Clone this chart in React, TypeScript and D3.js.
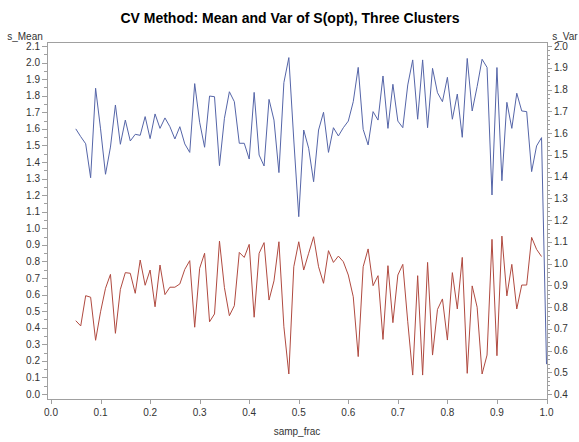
import React from "react";
import * as d3 from "d3";

const title = "CV Method: Mean and Var of S(opt), Three Clusters";
const xLabel = "samp_frac";
const yLeftLabel = "s_Mean";
const yRightLabel = "s_Var";

const sampFrac: number[] = d3.range(5, 101).map((i) => i / 100);

const sMean: number[] = [
  1.60, 1.553, 1.51, 1.305, 1.845, 1.60, 1.326, 1.49, 1.744, 1.507,
  1.653, 1.527, 1.567, 1.561, 1.674, 1.541, 1.69, 1.603, 1.666, 1.613,
  1.539, 1.613, 1.509, 1.458, 1.873, 1.64, 1.489, 1.798, 1.794, 1.378,
  1.664, 1.824, 1.764, 1.513, 1.513, 1.418, 1.82, 1.442, 1.376, 1.778,
  1.653, 1.336, 1.879, 2.03, 1.533, 1.07, 1.593, 1.483, 1.281, 1.593,
  1.70, 1.458, 1.607, 1.557, 1.607, 1.647, 1.764, 1.971, 1.597, 1.503,
  1.704, 1.653, 1.919, 1.603, 1.869, 1.647, 1.607, 1.865, 2.016, 1.658,
  2.016, 1.607, 1.965, 1.818, 1.764, 1.911, 1.658, 1.81, 1.549, 2.025,
  1.708, 1.855, 2.02, 1.971, 1.201, 1.97, 1.287, 1.76, 1.603, 1.815,
  1.708, 1.704, 1.342, 1.497, 1.547, 0.18,
];

const sVar: (number | null)[] = [
  0.737, 0.713, 0.852, 0.845, 0.647, 0.778, 0.886, 0.95, 0.679, 0.881,
  0.958, 0.955, 0.863, 1.016, 0.90, 0.97, 0.801, 0.993, 0.857, 0.891,
  0.891, 0.906, 0.973, 1.013, 0.707, 0.978, 1.047, 0.732, 0.768, 1.103,
  0.889, 0.76, 0.806, 1.051, 1.028, 1.088, 0.753, 1.047, 1.096, 0.832,
  0.92, 1.10, 0.709, 0.492, 0.985, 1.10, 0.97, 1.047, 1.123, 0.985,
  0.909, 1.059, 1.005, 1.034, 1.008, 0.947, 0.847, 0.572, 0.985, 1.067,
  0.898, 0.944, 0.651, 0.99, 0.728, 0.947, 0.996, 0.732, 0.487, 0.944,
  0.487, 1.005, 0.579, 0.789, 0.837, 0.648, 0.958, 0.791, 1.028, 0.495,
  0.897, 0.799, 0.492, 0.579, 1.111, 0.576, 1.126, 0.851, 0.996, 0.791,
  0.901, 0.901, 1.12, 1.065, 1.032, null,
];

const xTicks = d3.range(0, 11).map((i) => i / 10);
const yLeftTicks = d3.range(0, 22).map((i) => i / 10);
const yRightTicks = d3.range(4, 21).map((i) => i / 10);

const W = 579;
const H = 442;
const FL = 47, FR = 547, FT = 42, FB = 399;

export default function App() {
  const x = d3.scaleLinear().domain([0, 1]).range([51, 546.5]);
  const yL = d3.scaleLinear().domain([0, 2.1]).range([394, 46]);
  const yR = d3.scaleLinear().domain([0.4, 2.0]).range([394, 46]);

  const meanLine = d3
    .line<number>()
    .x((_, i) => x(sampFrac[i]))
    .y((d) => yL(d))(sMean) as string;

  const varLine = d3
    .line<number | null>()
    .defined((d) => d !== null)
    .x((_, i) => x(sampFrac[i]))
    .y((d) => yR(d as number))(sVar) as string;

  const leftMinor = d3.range(0, 43).map((i) => i * 0.05).filter((v) => Math.round(v * 100) % 10 !== 0);
  const rightMinor = d3.range(20, 101).map((i) => i * 0.02).filter((v) => Math.round(v * 100) % 10 !== 0);

  const font = "Arial, 'Liberation Sans', sans-serif";
  const axisColor = "#a0a0a0";
  const textColor = "#333";

  return (
    <svg width={W} height={H} style={{ position: "absolute", left: 0, top: 0, background: "#fff" }} fontFamily={font}>
      <rect x={0} y={0} width={W} height={H} fill="#fff" />
      <text x={290} y={23} textAnchor="middle" fontSize={14} fontWeight="bold" fill="#000">{title}</text>

      <rect x={FL + 0.5} y={FT + 0.5} width={FR - FL} height={FB - FT} fill="none" stroke={axisColor} strokeWidth={1} />

      {/* x axis */}
      {xTicks.map((t) => (
        <g key={"x" + t}>
          <line x1={Math.round(x(t)) + 0.5} x2={Math.round(x(t)) + 0.5} y1={FB + 0.5} y2={FB + 5} stroke={axisColor} />
          <text x={x(t)} y={416} textAnchor="middle" fontSize={10} fill={textColor}>{t.toFixed(1)}</text>
        </g>
      ))}
      <text x={297} y={435} textAnchor="middle" fontSize={10} fill={textColor}>{xLabel}</text>

      {/* left axis */}
      {yLeftTicks.map((t) => (
        <g key={"l" + t}>
          <line x1={FL - 5} x2={FL + 0.5} y1={Math.round(yL(t)) + 0.5} y2={Math.round(yL(t)) + 0.5} stroke={axisColor} />
          <text x={FL - 7} y={yL(t) + 3.5} textAnchor="end" fontSize={10} fill={textColor}>{t.toFixed(1)}</text>
        </g>
      ))}
      {leftMinor.map((t) => (
        <line key={"lm" + t} x1={FL - 3} x2={FL + 0.5} y1={Math.round(yL(t)) + 0.5} y2={Math.round(yL(t)) + 0.5} stroke={axisColor} />
      ))}
      <text x={25} y={40} textAnchor="middle" fontSize={10} fill={textColor}>{yLeftLabel}</text>

      {/* right axis */}
      {yRightTicks.map((t) => (
        <g key={"r" + t}>
          <line x1={FR + 0.5} x2={FR + 5} y1={Math.round(yR(t)) + 0.5} y2={Math.round(yR(t)) + 0.5} stroke={axisColor} />
          <text x={FR + 7} y={yR(t) + 3.5} textAnchor="start" fontSize={10} fill={textColor}>{t.toFixed(1)}</text>
        </g>
      ))}
      {rightMinor.map((t) => (
        <line key={"rm" + t} x1={FR + 0.5} x2={FR + 3} y1={Math.round(yR(t)) + 0.5} y2={Math.round(yR(t)) + 0.5} stroke={axisColor} />
      ))}
      <text x={565} y={40} textAnchor="middle" fontSize={10} fill={textColor}>{yRightLabel}</text>

      <path d={varLine} fill="none" stroke="#b04a40" strokeWidth={1} />
      <path d={meanLine} fill="none" stroke="#5565a8" strokeWidth={1} />
    </svg>
  );
}
